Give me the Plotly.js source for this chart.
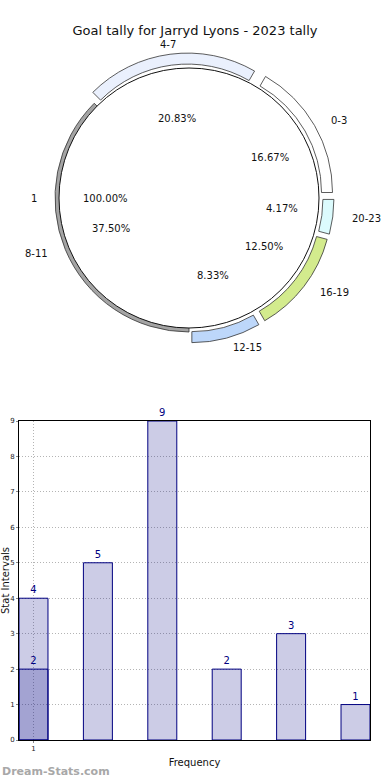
<!DOCTYPE html>
<html>
<head>
<meta charset="utf-8">
<script src="https://cdn.plot.ly/plotly-3.0.1.min.js"></script>
<style>html,body{margin:0;padding:0;background:#fff;}#chart{width:390px;height:780px;}</style>
</head>
<body>
<div id="chart"></div>
<script>
// ---- data ----
const chartTitle = 'Goal tally for Jarryd Lyons - 2023 tally';
const intervals = ['0-3', '4-7', '8-11', '12-15', '16-19', '20-23'];
const counts = [4, 5, 9, 2, 3, 1];
const innerLabels = ['1'];
const innerValues = [1];
const overlayX = [0];
const overlayCounts = [2];
const barX = [0, 1, 2, 3, 4, 5];
const xTickVals = [0];
const xTickText = ['1'];
const yTickVals = [0, 1, 2, 3, 4, 5, 6, 7, 8, 9];

// ---- styles ----
const W = 390, H = 780;
const FONT = 'DejaVu Sans, sans-serif';
const ringColors = ['#ffffff', '#eaf0fd', '#a4a4a4', '#bdd7fa', '#d3eb8d', '#dcfbfd'];
const ringPulled = [1, 1, 0, 1, 1, 1];
const cx = 189, cy = 198, Rin = 130;
const Rout = Rin + 4, Rhole = Rin - 7, pullPx = 11;
const pullFrac = pullPx / Rout;

function px2x(p) { return p / W; }
function px2y(p) { return 1 - p / H; }

const total = counts.reduce((a, b) => a + b, 0);
// Plotly (counterclockwise) puts the END of the first slice at `rotation`;
// shift so the first slice starts at 3 o'clock like the reference.
const ringRotation = 90 - counts[0] / total * 360;

const outerHalf = Rout * (1 + pullFrac);
const outerPie = {
  type: 'pie', values: counts, labels: intervals, sort: false,
  direction: 'counterclockwise', rotation: ringRotation,
  hole: Rhole / Rout,
  pull: ringPulled.map(f => f * pullFrac),
  domain: {x: [px2x(cx - outerHalf), px2x(cx + outerHalf)], y: [px2y(cy + outerHalf), px2y(cy - outerHalf)]},
  marker: {colors: ringColors, line: {color: '#333333', width: 0.8}},
  textinfo: 'none', hoverinfo: 'label+percent', showlegend: false
};
const innerPie = {
  type: 'pie', values: innerValues, labels: innerLabels, sort: false,
  domain: {x: [px2x(cx - Rin), px2x(cx + Rin)], y: [px2y(cy + Rin), px2y(cy - Rin)]},
  marker: {colors: ['#ffffff'], line: {color: '#111111', width: 1}},
  textinfo: 'none', hoverinfo: 'label+percent', showlegend: false
};

// text around the pie, placed from the data angles (counterclockwise from 3 o'clock)
const annotations = [];
function addPieText(label, pct, midDeg, pulled) {
  const c = Math.cos(midDeg * Math.PI / 180), s = Math.sin(midDeg * Math.PI / 180);
  const prx = 84 + pulled * 10, pry = 80;
  annotations.push({xref: 'paper', yref: 'paper', x: px2x(cx + prx * c), y: px2y(cy - pry * s),
    text: pct, showarrow: false, xanchor: 'center', yanchor: 'middle', font: {size: 10, color: '#111'}});
  const lrx = 150 + pulled * 12, lry = Rin + 14 + pulled * 11;
  const xa = c > 0.2 ? 'left' : (c < -0.2 ? 'right' : 'center');
  annotations.push({xref: 'paper', yref: 'paper', x: px2x(cx + lrx * c), y: px2y(cy - lry * s),
    text: label, showarrow: false, xanchor: xa, yanchor: 'middle', font: {size: 10, color: '#111'}});
}
let acc = 0;
counts.forEach((v, i) => {
  const mid = (acc + v / 2) / total * 360;
  acc += v;
  addPieText(intervals[i], (v / total * 100).toFixed(2) + '%', mid, ringPulled[i]);
});
const innerTotal = innerValues.reduce((a, b) => a + b, 0);
let accIn = 0;
innerValues.forEach((v, i) => {
  const mid = (accIn + v / 2) / innerTotal * 360;
  accIn += v;
  addPieText(innerLabels[i], (v / innerTotal * 100).toFixed(2) + '%', mid, 0);
});

annotations.push({xref: 'paper', yref: 'paper', x: 0, y: px2y(771), xanchor: 'left', yanchor: 'middle',
  text: '<b>Dream-Stats.com</b>', showarrow: false, font: {size: 11, color: '#a8a8a8'}});

const barFill = 'rgba(0,0,128,0.2)';
const bars = {
  type: 'bar', x: barX, y: counts, width: 0.45,
  marker: {color: barFill, line: {color: '#000080', width: 1}},
  text: counts.map(String), textposition: 'outside', cliponaxis: false,
  textfont: {size: 10, color: '#000080'}, hoverinfo: 'y', showlegend: false
};
const overlay = {
  type: 'bar', x: overlayX, y: overlayCounts, width: 0.45,
  marker: {color: barFill, line: {color: '#000080', width: 1}},
  text: overlayCounts.map(String), textposition: 'outside', cliponaxis: false,
  textfont: {size: 10, color: '#000080'}, hoverinfo: 'y', showlegend: false
};

const layout = {
  width: W, height: H, margin: {l: 0, r: 0, t: 0, b: 0},
  paper_bgcolor: '#ffffff', plot_bgcolor: '#ffffff',
  font: {family: FONT, color: '#111'},
  title: {text: chartTitle, x: 0.5, xanchor: 'center', y: px2y(30), yanchor: 'middle', font: {size: 13, color: '#111'}},
  barmode: 'overlay', bargap: 0,
  xaxis: {domain: [px2x(19), px2x(370)], range: [-0.225, 5.225], tickmode: 'array', tickvals: xTickVals, ticktext: xTickText,
    showline: true, mirror: true, linecolor: '#000', linewidth: 1, ticks: 'outside', ticklen: 2, tickcolor: '#888',
    showgrid: true, gridcolor: '#b4b4b4', griddash: '1px,2px', zeroline: false, fixedrange: true,
    tickfont: {size: 7, color: '#222'},
    title: {text: 'Frequency', font: {size: 10, color: '#111'}, standoff: 6}},
  yaxis: {domain: [px2y(740), px2y(421)], range: [0, 9], tickmode: 'array', tickvals: yTickVals,
    showline: true, mirror: true, linecolor: '#000', linewidth: 1, ticks: 'outside', ticklen: 2, tickcolor: '#888',
    showgrid: true, gridcolor: '#b4b4b4', griddash: '1px,2px', zeroline: false, fixedrange: true,
    tickfont: {size: 7, color: '#222'},
    title: {text: 'Stat Intervals', font: {size: 10, color: '#111'}, standoff: 2}},
  annotations: annotations
};

Plotly.newPlot('chart', [outerPie, innerPie, bars, overlay], layout, {displayModeBar: false, staticPlot: true});
</script>
</body>
</html>
